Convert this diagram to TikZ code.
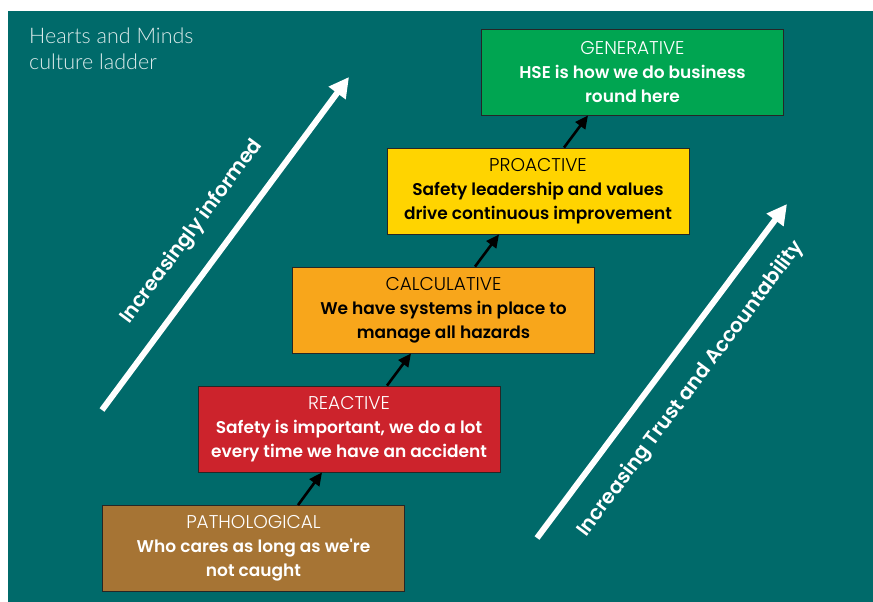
\documentclass[tikz,border=0pt]{standalone}
\usepackage{fontspec}
\setmainfont{Poppins}
\newfontfamily\lightfont{Poppins Light}
\newfontfamily\semifont{Poppins SemiBold}
\newfontfamily\hdrfont{Lato Light}
\usetikzlibrary{arrows.meta}

\definecolor{ladderteal}{RGB}{0,106,106}
\definecolor{genfill}{RGB}{0,165,81}
\definecolor{profill}{RGB}{255,212,0}
\definecolor{calcfill}{RGB}{248,166,27}
\definecolor{reactfill}{RGB}{204,35,44}
\definecolor{pathfill}{RGB}{166,116,52}
\definecolor{hdrtext}{RGB}{222,236,236}

% rung caption: a light heading over a semibold two-line statement
\newcommand{\rungtext}[3]{{\lightfont\fontsize{18.5}{24}\selectfont #1}\\{\semifont #2}\\{\semifont #3}}

\begin{document}
\begin{tikzpicture}[x=1pt,y=-1pt,
  rung/.style={draw=black!85, line width=0.8pt, minimum width=302pt,
    minimum height=86pt, inner sep=0pt, align=center,
    font=\fontsize{17}{24}\selectfont},
  climb/.style={black, line width=2.6pt, -{Triangle[length=13pt,width=12pt]}},
  trend/.style={white, line width=6pt, -{Triangle[length=20pt,width=20pt]}},
  trendlabel/.style={text=white, inner sep=0pt, font=\semifont\fontsize{20}{20}\selectfont}]

  % page and panel
  \useasboundingbox (0,0) rectangle (873,602);
  \fill[ladderteal] (8,11) rectangle (873,602);

  % heading
  \node[anchor=north west, inner sep=0pt, align=left, text=hdrtext,
        font=\hdrfont\fontsize{21.5}{26}\selectfont] (title) at (29,28)
        {Hearts and Minds\\culture ladder};

  % the five rungs of the ladder
  \node[rung, fill=pathfill, text=white] (path) at (253.5,548.5)
    {\rungtext{PATHOLOGICAL}{Who cares as long as we're}{not caught}};
  \node[rung, fill=reactfill, text=white] (react) at (349,429)
    {\rungtext{REACTIVE}{Safety is important, we do a lot}{every time we have an accident}};
  \node[rung, fill=calcfill, text=black] (calc) at (443.5,310)
    {\rungtext{CALCULATIVE}{We have systems in place to}{manage all hazards}};
  \node[rung, fill=profill, text=black] (pro) at (538,191)
    {\rungtext{PROACTIVE}{Safety leadership and values}{drive continuous improvement}};
  \node[rung, fill=genfill, text=white] (gen) at (632.5,72)
    {\rungtext{GENERATIVE}{HSE is how we do business}{round here}};

  % steps between rungs
  \draw[climb] ([xshift=44.5pt]path.north) -- ([xshift=-27pt]react.south);
  \draw[climb] ([xshift=38pt]react.north) -- ([xshift=-32.5pt]calc.south);
  \draw[climb] ([xshift=31.5pt]calc.north) -- ([xshift=-39pt]pro.south);
  \draw[climb] ([xshift=26pt]pro.north) -- ([xshift=-44.5pt]gen.south);

  % trend arrows
  \coordinate (informedtail) at (102,410);
  \coordinate (informedtip) at (349,77);
  \coordinate (trusttail) at (537,538);
  \coordinate (trusttip) at (787,204);
  \draw[trend] (informedtail) -- (informedtip);
  \draw[trend] (trusttail) -- (trusttip);

  \node[trendlabel, rotate=53.4] (informed) at (192,232) {Increasingly informed};
  \node[trendlabel, rotate=53.2] (trust) at (691,389) {Increasing Trust and Accountability};
\end{tikzpicture}
\end{document}
